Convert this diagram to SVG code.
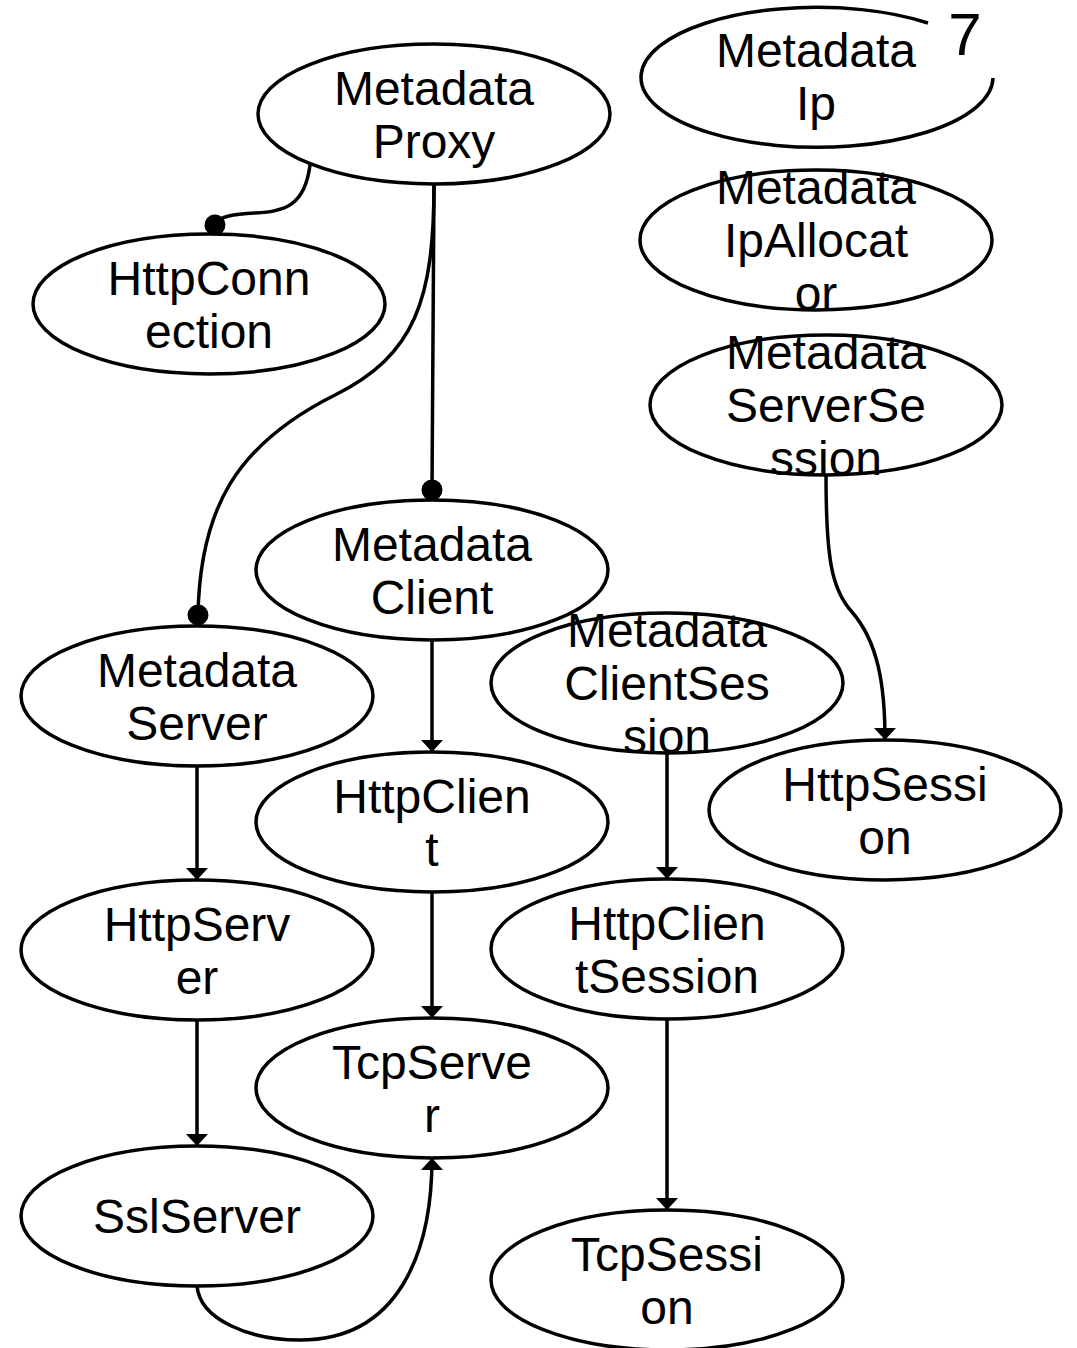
<svg xmlns="http://www.w3.org/2000/svg" width="1077" height="1348" viewBox="0 0 1077 1348">
<style>
.n ellipse,.n path{fill:#fff;stroke:#000;stroke-width:3.5}
text{font-family:"Liberation Sans",Arial,sans-serif;font-size:48px;text-anchor:middle;fill:#000}
.e path,.e line{fill:none;stroke:#000;stroke-width:3.5}
</style>
<defs>
<marker id="a" markerUnits="userSpaceOnUse" markerWidth="24" markerHeight="24" refX="12" refY="11" orient="auto"><path d="M0,0L12,11L0,22z" fill="#000"/></marker>
<marker id="d" markerUnits="userSpaceOnUse" markerWidth="24" markerHeight="24" refX="11" refY="11" orient="auto"><circle cx="11" cy="11" r="10.5" fill="#000"/></marker>
</defs>
<rect width="1077" height="1348" fill="#fff"/>
<g class="e">
<path d="M310,165 C305,205 285,212 255,213 C235,214 218,216 215,225" marker-end="url(#d)"/>
<line x1="434" y1="184" x2="432" y2="490" marker-end="url(#d)"/>
<path d="M434,184 C434,300 415,355 335,395 C235,445 200,510 198,615" marker-end="url(#d)"/>
<line x1="432" y1="640" x2="432" y2="752" marker-end="url(#a)"/>
<line x1="197" y1="766" x2="197" y2="880" marker-end="url(#a)"/>
<line x1="432" y1="892" x2="432" y2="1018" marker-end="url(#a)"/>
<line x1="197" y1="1020" x2="197" y2="1146" marker-end="url(#a)"/>
<line x1="667" y1="753" x2="667" y2="879" marker-end="url(#a)"/>
<line x1="667" y1="1019" x2="667" y2="1210" marker-end="url(#a)"/>
<path d="M826,475 C826,560 832,590 852,612 C878,642 885,685 885,740" marker-end="url(#a)"/>
<path d="M197,1286 C200,1320 250,1340 300,1340 C400,1340 432,1250 432,1158" marker-end="url(#a)"/>
</g>
<g id="MetadataProxy" class="n"><ellipse cx="434" cy="114" rx="176" ry="70"/><text x="434" y="105">Metadata</text><text x="434" y="158">Proxy</text></g>
<g id="MetadataIp" class="n"><path d="M993,78 A176,70 0 1 1 928,23"/><text x="816" y="67">Metadata</text><text x="816" y="120">Ip</text><text x="965" y="55" style="font-size:60px">7</text></g>
<g id="MetadataIpAllocator" class="n"><ellipse cx="816" cy="240" rx="176" ry="70"/><text x="816" y="204">Metadata</text><text x="816" y="257">IpAllocat</text><text x="816" y="310">or</text></g>
<g id="MetadataServerSession" class="n"><ellipse cx="826" cy="405" rx="176" ry="70"/><text x="826" y="369">Metadata</text><text x="826" y="422">ServerSe</text><text x="826" y="475">ssion</text></g>
<g id="HttpConnection" class="n"><ellipse cx="209" cy="304" rx="176" ry="70"/><text x="209" y="295">HttpConn</text><text x="209" y="348">ection</text></g>
<g id="MetadataClient" class="n"><ellipse cx="432" cy="570" rx="176" ry="70"/><text x="432" y="561">Metadata</text><text x="432" y="614">Client</text></g>
<g id="MetadataServer" class="n"><ellipse cx="197" cy="696" rx="176" ry="70"/><text x="197" y="687">Metadata</text><text x="197" y="740">Server</text></g>
<g id="MetadataClientSession" class="n"><ellipse cx="667" cy="683" rx="176" ry="70"/><text x="667" y="647">Metadata</text><text x="667" y="700">ClientSes</text><text x="667" y="753">sion</text></g>
<g id="HttpSession" class="n"><ellipse cx="885" cy="810" rx="176" ry="70"/><text x="885" y="801">HttpSessi</text><text x="885" y="854">on</text></g>
<g id="HttpClient" class="n"><ellipse cx="432" cy="822" rx="176" ry="70"/><text x="432" y="813">HttpClien</text><text x="432" y="866">t</text></g>
<g id="HttpServer" class="n"><ellipse cx="197" cy="950" rx="176" ry="70"/><text x="197" y="941">HttpServ</text><text x="197" y="994">er</text></g>
<g id="HttpClientSession" class="n"><ellipse cx="667" cy="949" rx="176" ry="70"/><text x="667" y="940">HttpClien</text><text x="667" y="993">tSession</text></g>
<g id="TcpServer" class="n"><ellipse cx="432" cy="1088" rx="176" ry="70"/><text x="432" y="1079">TcpServe</text><text x="432" y="1132">r</text></g>
<g id="SslServer" class="n"><ellipse cx="197" cy="1216" rx="176" ry="70"/><text x="197" y="1233">SslServer</text></g>
<g id="TcpSession" class="n"><ellipse cx="667" cy="1280" rx="176" ry="70"/><text x="667" y="1271">TcpSessi</text><text x="667" y="1324">on</text></g>
</svg>
